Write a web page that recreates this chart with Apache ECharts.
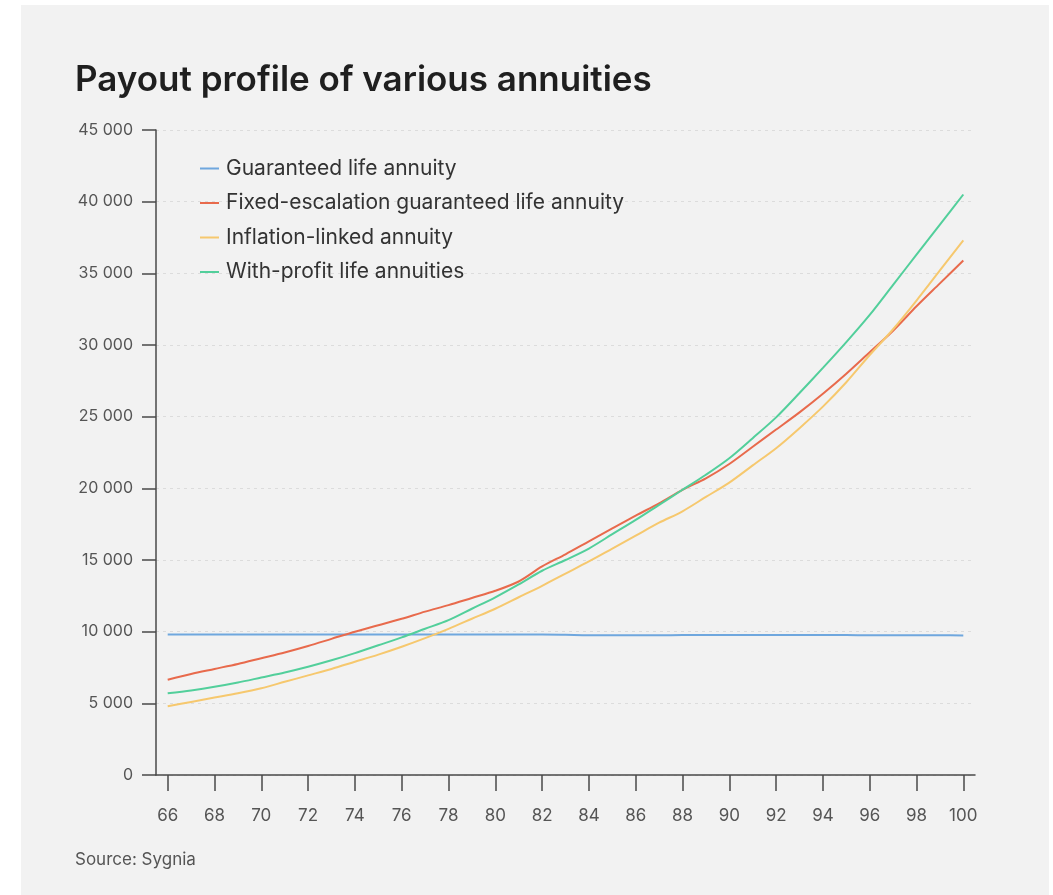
<!DOCTYPE html>
<html>
<head>
<meta charset="utf-8">
<title>Payout profile of various annuities</title>
<script src="https://cdn.jsdelivr.net/npm/echarts@6/dist/echarts.min.js"></script>
<style>
  html, body { margin: 0; padding: 0; background: #ffffff; }
  #wrap { position: relative; width: 1053px; height: 895px; overflow: hidden; }
  #panel { position: absolute; left: 21px; top: 5px; width: 1028px; height: 890px; background: #f2f2f2; }
  #chart { position: absolute; left: 0; top: 0; width: 1053px; height: 895px; }
</style>
</head>
<body>
<div id="wrap">
  <div id="panel"></div>
  <div id="chart"></div>
</div>
<script>
// Age at which each payout is received
const ages = [66, 67, 68, 69, 70, 71, 72, 73, 74, 75, 76, 77, 78, 79, 80, 81, 82, 83,
              84, 85, 86, 87, 88, 89, 90, 91, 92, 93, 94, 95, 96, 97, 98, 99, 100];

// Annual payout per annuity type
const guaranteed = [9800, 9800, 9800, 9800, 9800, 9800, 9800, 9800, 9800, 9800, 9800, 9800,
                    9800, 9800, 9800, 9800, 9800, 9780, 9750, 9750, 9750, 9750, 9760, 9760,
                    9760, 9760, 9760, 9760, 9760, 9760, 9750, 9750, 9750, 9750, 9740];
const fixedEscalation = [6650, 7050, 7400, 7750, 8150, 8550, 9000, 9500, 10000, 10450, 10900,
                         11400, 11850, 12350, 12850, 13500, 14550, 15400, 16300, 17200, 18100,
                         18950, 19900, 20700, 21700, 22900, 24100, 25300, 26600, 28000, 29500,
                         31000, 32700, 34300, 35900];
const inflationLinked = [4800, 5100, 5400, 5700, 6050, 6500, 6950, 7400, 7900, 8400, 8950,
                         9550, 10200, 10900, 11600, 12400, 13200, 14050, 14900, 15800, 16700,
                         17600, 18400, 19400, 20400, 21600, 22800, 24200, 25700, 27400, 29300,
                         31100, 33100, 35200, 37300];
const withProfit = [5700, 5900, 6150, 6450, 6800, 7150, 7550, 8000, 8500, 9050, 9600, 10200,
                    10800, 11600, 12400, 13300, 14250, 15000, 15800, 16800, 17800, 18850,
                    19900, 20950, 22100, 23500, 24950, 26650, 28400, 30200, 32100, 34200,
                    36300, 38400, 40500];

const seriesNames = [
  'Guaranteed life annuity',
  'Fixed-escalation guaranteed life annuity',
  'Inflation-linked annuity',
  'With-profit life annuities'
];
const seriesColors = ['#6fa7de', '#e86a4c', '#f6c86e', '#52cf9b'];
const seriesData = [guaranteed, fixedEscalation, inflationLinked, withProfit];

const FONT = 'Inter, "Noto Sans", sans-serif';
const fmtThousands = v => String(v).replace(/\B(?=(\d{3})+(?!\d))/g, ' ');

const chart = echarts.init(document.getElementById('chart'), null, { renderer: 'canvas' });

chart.setOption({
  backgroundColor: 'transparent',
  animation: false,
  textStyle: { fontFamily: FONT },
  title: {
    text: 'Payout profile of various annuities',
    left: 70,
    top: 58,
    textStyle: { fontFamily: FONT, fontSize: 35, fontWeight: 600, color: '#1f1f1f' }
  },
  graphic: [{
    type: 'text',
    left: 75,
    top: 851,
    style: { text: 'Source: Sygnia', fontFamily: FONT, fontSize: 17, fill: '#555555' }
  }],
  legend: {
    orient: 'vertical',
    left: 195,
    top: 153,
    itemWidth: 19,
    itemHeight: 2,
    itemGap: 13.5,
    icon: 'rect',
    data: seriesNames,
    textStyle: { fontFamily: FONT, fontSize: 21, color: '#333333', lineHeight: 20, padding: [0, 0, 0, 2] }
  },
  grid: { left: 156, right: 78, top: 130, bottom: 120, containLabel: false },
  xAxis: {
    type: 'category',
    data: ages,
    boundaryGap: true,
    axisLine: { show: true, lineStyle: { color: '#4a4a4a', width: 1.5 } },
    axisTick: { show: true, alignWithLabel: true, interval: 1, length: 16, lineStyle: { color: '#4a4a4a', width: 1.5 } },
    axisLabel: { interval: 1, margin: 32, fontFamily: FONT, fontSize: 17, color: '#555555' },
    splitLine: { show: false }
  },
  yAxis: {
    type: 'value',
    min: 0,
    max: 45000,
    interval: 5000,
    axisLine: { show: true, lineStyle: { color: '#4a4a4a', width: 1.5 } },
    axisTick: { show: true, length: 14, lineStyle: { color: '#4a4a4a', width: 1.5 } },
    axisLabel: { margin: 23, fontFamily: FONT, fontSize: 16, color: '#555555', formatter: fmtThousands },
    splitLine: { show: true, lineStyle: { color: '#dcdcdc', width: 1, type: [3, 4] } }
  },
  series: seriesNames.map((name, i) => ({
    name,
    type: 'line',
    data: seriesData[i],
    smooth: 0.3,
    showSymbol: false,
    symbol: 'none',
    color: seriesColors[i],
    lineStyle: { width: 2, color: seriesColors[i] },
    z: 2 + i
  }))
});
</script>
</body>
</html>
